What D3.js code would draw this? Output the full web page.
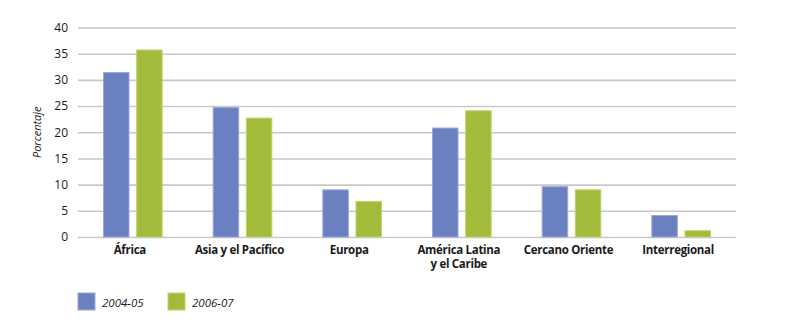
<!DOCTYPE html>
<html>
<head>
<meta charset="utf-8">
<script src="https://cdn.jsdelivr.net/npm/d3@7"></script>
<style>
  html, body { margin: 0; padding: 0; background: #ffffff; }
  svg { display: block; }
  text { font-family: "Open Sans", "Noto Sans", sans-serif; fill: #1a1a1a; }
</style>
</head>
<body>
<svg id="chart" width="800" height="327"></svg>
<script>
// Regions (each label may wrap onto two lines)
const categories = ["África", "Asia y el Pacífico", "Europa", "América Latina\ny el Caribe", "Cercano Oriente", "Interregional"];
const seriesNames = ["2004-05", "2006-07"];
const values2004 = [31.5, 24.8, 9.1, 20.9, 9.7, 4.2];
const values2006 = [35.8, 22.8, 6.9, 24.2, 9.1, 1.3];
const yTicks = [0, 5, 10, 15, 20, 25, 30, 35, 40];
const colors = ["#6b80c0", "#a3bb3a"];
const strokeColors = ["#9aa8d8", "#c2d46e"];

const svg = d3.select("#chart");
const plotLeft = 78, plotRight = 736, plotTop = 27.5, plotBottom = 237;

const x = d3.scaleBand().domain(categories).range([plotLeft, plotRight]).paddingInner(0).paddingOuter(0);
const xSeries = d3.scaleBand().domain(seriesNames).range([25, x.bandwidth() - 25]).paddingInner(0.2);
const y = d3.scaleLinear().domain([0, 40]).range([plotBottom, plotTop]);

// Horizontal gridlines
svg.append("g").selectAll("line").data(yTicks).join("line")
  .attr("x1", plotLeft).attr("x2", plotRight)
  .attr("y1", d => y(d) + 0.5).attr("y2", d => y(d) + 0.5)
  .attr("stroke", "#c9c9c9").attr("stroke-width", 1.6);

// Y axis tick labels
const yAxis = d3.axisLeft(y).tickValues(yTicks).tickSize(0).tickPadding(0);
const gy = svg.append("g").attr("transform", `translate(68,0)`).call(yAxis);
gy.select(".domain").remove();
gy.selectAll("text").attr("font-size", 12).attr("fill", "#1a1a1a")
  .style("font-family", "'Open Sans', sans-serif");

// Y axis title
svg.append("text")
  .attr("transform", `translate(41,${(plotTop + plotBottom) / 2}) rotate(-90)`)
  .attr("text-anchor", "middle")
  .attr("font-size", 11).attr("font-style", "italic")
  .text("Porcentaje");

// Bars
const rows = categories.map((c, i) => ({ cat: c, vals: [values2004[i], values2006[i]] }));
const groups = svg.append("g").selectAll("g").data(rows).join("g")
  .attr("transform", d => `translate(${x(d.cat)},0)`);
groups.selectAll("rect").data(d => d.vals.map((v, j) => ({ v, j }))).join("rect")
  .attr("x", d => xSeries(seriesNames[d.j]) + 0.5)
  .attr("y", d => y(d.v) + 0.5)
  .attr("width", xSeries.bandwidth() - 1)
  .attr("height", d => y(0) - y(d.v) - 0.5)
  .attr("fill", d => colors[d.j])
  .attr("stroke", d => strokeColors[d.j])
  .attr("stroke-width", 1);

// Category labels
const xl = svg.append("g").selectAll("text").data(categories).join("text")
  .attr("x", d => x(d) + x.bandwidth() / 2 - 3)
  .attr("y", 254)
  .attr("text-anchor", "middle")
  .attr("font-size", 11.5).attr("font-weight", "bold")
  .attr("letter-spacing", "-0.3");
xl.each(function(d) {
  const lines = d.split("\n");
  d3.select(this).selectAll("tspan").data(lines).join("tspan")
    .attr("x", x(d) + x.bandwidth() / 2 - 3)
    .attr("dy", (l, i) => i === 0 ? 0 : 14)
    .text(l => l);
});

// Legend
const legend = svg.append("g").selectAll("g").data(seriesNames).join("g")
  .attr("transform", (d, i) => `translate(${78 + i * 90},293)`);
legend.append("rect").attr("width", 17).attr("height", 17)
  .attr("fill", (d, i) => colors[i]).attr("stroke", (d, i) => strokeColors[i]).attr("stroke-width", 1);
legend.append("text").attr("x", 24).attr("y", 13.5)
  .attr("font-size", 11.5).attr("font-style", "italic")
  .text(d => d);
</script>
</body>
</html>
